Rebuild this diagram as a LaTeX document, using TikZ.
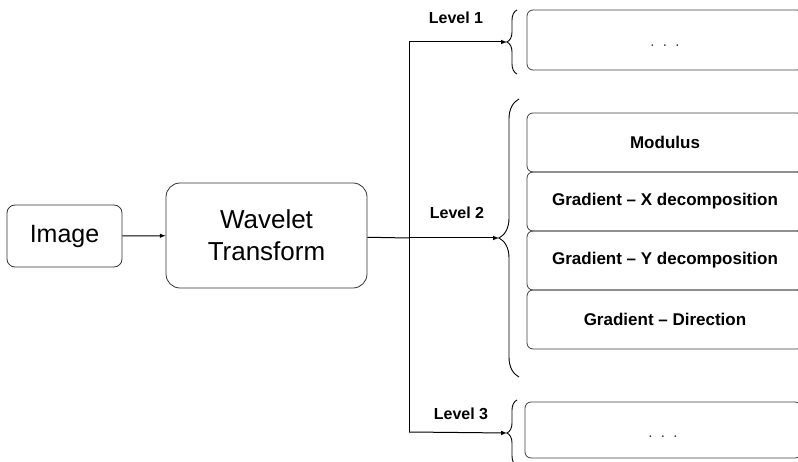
\documentclass[tikz,border=0pt]{standalone}
\usepackage{fontspec}
\setmainfont{Liberation Sans}
\usetikzlibrary{positioning}
\usetikzlibrary{decorations.pathreplacing}
\tikzset{
    blk/.style = {rectangle, draw=black!80, align=center, line width=0.8pt, inner sep=0pt},
    outbox/.style = {rectangle, rounded corners=6pt, draw=black!75, align=center, line width=0.8pt, inner sep=0pt, minimum width=276pt, font=\bfseries\fontsize{17}{19}\selectfont},
    dotsbox/.style = {outbox, font=\fontsize{15}{17}\selectfont, text=black!80},
    lvl/.style = {font=\bfseries\fontsize{16}{18}\selectfont},
    brc/.style = {decorate, line width=0.9pt},
    wire/.style = {line width=1pt},
}
\newcommand{\moredots}{\raisebox{-7pt}[0pt][0pt]{.\ \ .\ \ .}}
\begin{document}
\begin{tikzpicture}[
	x=1pt, y=-1pt,
	>=latex
]
\clip (0,0) rectangle (798,462);
\node[blk, rounded corners=8pt, minimum width=115pt, minimum height=62pt, font=\fontsize{25}{28}\selectfont] at (64.5,236) (img) {Image};
\node[blk, rounded corners=14pt, minimum width=201pt, minimum height=105pt, font=\fontsize{26}{32}\selectfont] at (266.5,235.5) (wt) {Wavelet\\Transform};
%
\coordinate (split) at (409,238);
\coordinate (top) at (409,42);
\coordinate (bot) at (409,432);
\coordinate (tip1) at (507,42);
\coordinate (tip2) at (499,238);
\coordinate (tip3) at (507,433);
%
\draw[brc, decoration={brace, amplitude=10pt}] (517,74) -- (517,10);
\draw[brc, decoration={brace, amplitude=20pt}] (519,377) -- (519,99);
\draw[brc, decoration={brace, amplitude=10pt}] (517,466) -- (517,400);
%
\node[lvl] at (456,18) (l1) {Level 1};
\node[lvl] at (457,213) (l2) {Level 2};
\node[lvl] at (461,414) (l3) {Level 3};
%
\node[dotsbox, minimum height=60pt] at (665,40) (o1) {\moredots};
\node[outbox, minimum height=59pt] at (665,142.5) (mod) {Modulus};
\node[outbox, minimum height=59pt] at (665,201.5) (gx) {Gradient -- X decomposition};
\node[outbox, minimum height=59pt] at (665,260.5) (gy) {Gradient -- Y decomposition};
\node[outbox, minimum height=59pt] at (665,319.5) (gd) {Gradient -- Direction};
\node[dotsbox, minimum height=56pt] at (663,430) (o3) {\moredots};
%
\draw[wire,->] (img) -- (wt);
\draw[wire] (wt) -- (split);
\draw[wire] (top) -- (bot);
\draw[wire,->] (split) -- (tip2);
\draw[wire,->] (top) -- (tip1);
\draw[wire,->] (bot) -- (tip3);
\end{tikzpicture}
\end{document}
